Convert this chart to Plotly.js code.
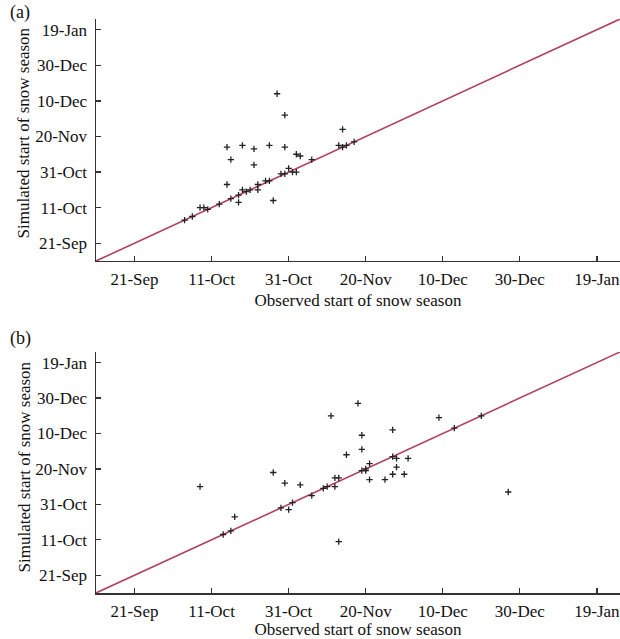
<!DOCTYPE html>
<html>
<head>
<meta charset="utf-8">
<script src="https://cdn.plot.ly/plotly-3.0.1.min.js"></script>
<style>html,body{margin:0;padding:0;background:#fff}#chart{width:620px;height:639px}</style>
</head>
<body>
<div id="chart"></div>
<script>
// Panel (a): observed vs simulated start of snow season
const obsA = ['2000-10-28','2000-10-30','2000-11-14','2000-11-13','2000-11-14','2000-11-15','2000-11-17','2000-11-06',
  '2000-11-02','2000-11-03','2000-10-30','2000-10-26','2000-10-22','2000-10-19','2000-10-15','2000-10-16','2000-10-22',
  '2000-10-15','2000-10-27','2000-10-18','2000-10-29','2000-10-30','2000-10-31','2000-11-01','2000-11-02','2000-10-25',
  '2000-10-26','2000-10-23','2000-10-23','2000-10-19','2000-10-20','2000-10-21','2000-10-18','2000-10-16','2000-10-13',
  '2000-10-08','2000-10-09','2000-10-10','2000-10-06','2000-10-04'];
const simA = ['2000-12-14','2000-12-02','2000-11-24','2000-11-15','2000-11-14','2000-11-15','2000-11-17','2000-11-07',
  '2000-11-10','2000-11-09','2000-11-14','2000-11-15','2000-11-13','2000-11-15','2000-11-14','2000-11-07','2000-11-04',
  '2000-10-24','2000-10-15','2000-10-14','2000-10-30','2000-10-30','2000-11-02','2000-10-31','2000-10-31','2000-10-26',
  '2000-10-26','2000-10-24','2000-10-21','2000-10-21','2000-10-20','2000-10-21','2000-10-18','2000-10-16','2000-10-13',
  '2000-10-11','2000-10-11','2000-10-10','2000-10-06','2000-10-04'];
// Panel (b)
const obsB = ['2000-10-08','2000-10-14','2000-10-16','2000-10-17','2000-10-27','2000-10-29','2000-11-01','2000-10-31',
  '2000-10-30','2000-11-03','2000-11-06','2000-11-09','2000-11-10','2000-11-12','2000-11-12','2000-11-13','2000-11-13',
  '2000-11-11','2000-11-15','2000-11-18','2000-11-19','2000-11-19','2000-11-19','2000-11-20','2000-11-20','2000-11-21',
  '2000-11-21','2000-11-25','2000-11-27','2000-11-27','2000-11-28','2000-11-28','2000-11-27','2000-11-30','2000-12-01',
  '2000-12-09','2000-12-13','2000-12-20','2000-12-27'];
const simB = ['2000-11-10','2000-10-14','2000-10-16','2000-10-24','2000-11-18','2000-10-29','2000-11-01','2000-10-28',
  '2000-11-12','2000-11-11','2000-11-05','2000-11-09','2000-11-10','2000-11-10','2000-11-15','2000-11-15','2000-10-10',
  '2000-12-20','2000-11-28','2000-12-27','2000-12-09','2000-12-01','2000-11-19','2000-11-19','2000-11-20','2000-11-23',
  '2000-11-14','2000-11-14','2000-12-12','2000-11-27','2000-11-26','2000-11-21','2000-11-17','2000-11-17','2000-11-26',
  '2000-12-19','2000-12-13','2000-12-20','2000-11-07'];
// 1:1 line
const lineDates = ['2000-09-11','2001-01-25'];
const axisRange = ['2000-09-11','2001-01-25'];
const panelLabels = ['(a)','(b)'];
const xTitle = 'Observed start of snow season';
const yTitle = 'Simulated start of snow season';

const font = 'Liberation Serif, Times New Roman, serif';
const axCol = '#333';
const lineCol = '#b4405f';
const mk = {symbol:'cross-thin-open', size:4.5, color:'#222', line:{width:1.3, color:'#222'}};

const traces = [
  {x: lineDates, y: lineDates, mode:'lines', line:{color:lineCol, width:1.6}, xaxis:'x', yaxis:'y', hoverinfo:'skip'},
  {x: obsA, y: simA, mode:'markers', marker: mk, xaxis:'x', yaxis:'y'},
  {x: lineDates, y: lineDates, mode:'lines', line:{color:lineCol, width:1.6}, xaxis:'x2', yaxis:'y2', hoverinfo:'skip'},
  {x: obsB, y: simB, mode:'markers', marker: mk, xaxis:'x2', yaxis:'y2'}
];

function xa(anchor){
  return {type:'date', range: axisRange, anchor: anchor, tick0:'2000-09-21', dtick: 20*86400000,
    tickformat:'%d-%b', ticks:'inside', ticklen:5, tickwidth:1.3, tickcolor:axCol,
    showline:true, linecolor:axCol, linewidth:1.5, showgrid:false, zeroline:false,
    ticklabelstandoff:2, ticklabeloverflow:'allow',
    tickfont:{family:font, size:17, color:'#111'},
    title:{text:xTitle, font:{family:font, size:17, color:'#111'}, standoff:6}};
}
function ya(anchor, dom){
  return {type:'date', range: axisRange, anchor: anchor, domain: dom, tick0:'2000-09-21', dtick: 20*86400000,
    tickformat:'%d-%b', ticks:'inside', ticklen:5, tickwidth:1.3, tickcolor:axCol,
    showline:true, linecolor:axCol, linewidth:1.5, showgrid:false, zeroline:false,
    ticklabelstandoff:4,
    tickfont:{family:font, size:17, color:'#111'}};
}
const titleFont = {family:font, size:17, color:'#111'};

const layout = {
  width:620, height:639,
  margin:{l:96, r:0, t:19, b:46},
  paper_bgcolor:'#fff', plot_bgcolor:'#fff',
  showlegend:false,
  xaxis: xa('y'),
  yaxis: ya('x', [0.5784, 1]),
  xaxis2: xa('y2'),
  yaxis2: ya('x2', [0, 0.4199]),
  annotations: [
    {text: panelLabels[0], xref:'paper', yref:'paper', x:-0.168, y:1.012, xanchor:'left', yanchor:'middle', showarrow:false,
     font:{family:font, size:18, color:'#111'}},
    {text: panelLabels[1], xref:'paper', yref:'paper', x:-0.168, y:0.4426, xanchor:'left', yanchor:'middle', showarrow:false,
     font:{family:font, size:18, color:'#111'}},
    {text: yTitle, xref:'paper', yref:'paper', x:-0.1365, y:0.8014, xanchor:'center', yanchor:'middle', textangle:-90,
     showarrow:false, font: titleFont},
    {text: yTitle, xref:'paper', yref:'paper', x:-0.1365, y:0.2195, xanchor:'center', yanchor:'middle', textangle:-90,
     showarrow:false, font: titleFont}
  ]
};
Plotly.newPlot('chart', traces, layout, {displayModeBar:false, staticPlot:true});
</script>
</body>
</html>
